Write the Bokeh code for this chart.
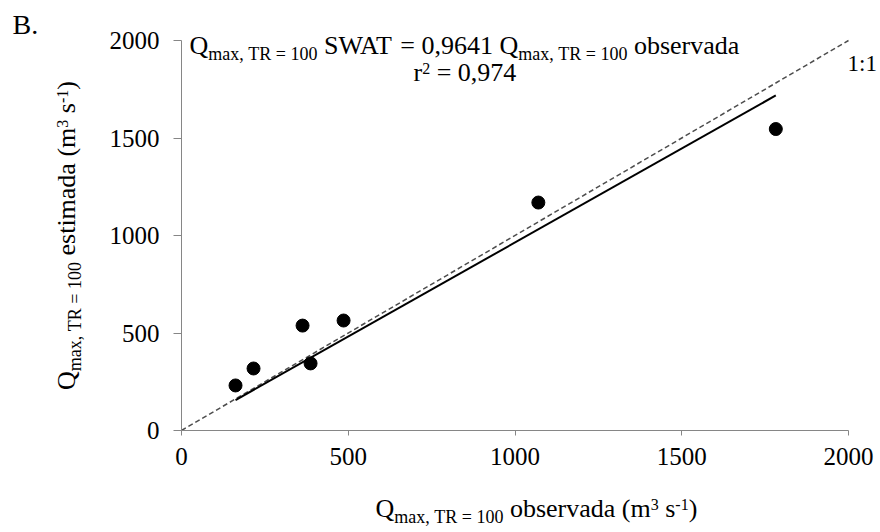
import math
from bokeh.plotting import figure
from bokeh.models import Range1d, Label, FixedTicker
from bokeh.embed import file_html
from bokeh.resources import INLINE

# ---- data ----
observada = [162, 216, 363, 387, 486, 1070, 1782]
estimada = [231, 318, 538, 344, 564, 1169, 1546]
slope = 0.9641
r2 = 0.974
ticks = [0, 500, 1000, 1500, 2000]
axis_min, axis_max = 0, 2000

FONT = "Liberation Serif"
W, H = 880, 532
# pixel box of the plotting area inside the canvas
L, R, T, B = 181, 32, 40, 102
FW, FH = W - L - R, H - T - B
span = axis_max - axis_min

# ranges extended so that the whole canvas is the frame (texts are not clipped)
x_start = axis_min - L / FW * span
x_end = axis_max + R / FW * span
y_start = axis_min - B / FH * span
y_end = axis_max + T / FH * span

p = figure(width=W, height=H, output_backend="svg", toolbar_location=None,
           x_range=Range1d(x_start, x_end), y_range=Range1d(y_start, y_end),
           min_border=0)
p.outline_line_color = None
p.grid.visible = False
p.background_fill_color = "white"
p.border_fill_color = "white"

for ax in (p.xaxis[0], p.yaxis[0]):
    ax.fixed_location = axis_min
    ax.bounds = (axis_min, axis_max)
    ax.ticker = FixedTicker(ticks=ticks)
    ax.minor_tick_line_color = None
    ax.axis_line_color = "#868686"
    ax.major_tick_line_color = "#868686"
    ax.major_tick_in = 0
    ax.major_label_text_font = FONT
    ax.major_label_text_font_size = "25px"
    ax.major_label_text_color = "black"
p.xaxis.major_tick_out = 5
p.xaxis.major_label_standoff = 12
p.yaxis.major_tick_out = 8
p.yaxis.major_label_standoff = 14

# 1:1 line
p.line([axis_min, axis_max], [axis_min, axis_max], line_color="#4d4d4d",
       line_width=1.5, line_dash="5 3")
# regression line through origin
xr = [min(observada), max(observada)]
p.line(xr, [slope * v for v in xr], line_color="black", line_width=2)
# points
p.scatter(observada, estimada, size=13, marker="circle", fill_color="black", line_color="black")

# ---- text layout helpers (pixel -> data) ----
def xd(px):
    return axis_min + (px - L) / FW * span

def yd(py):
    return axis_min + (T + FH - py) / FH * span

# advance widths (em) of the serif font, W includes the usual kerning of "WA"/"AT"
CW = {'Q': .722, 'm': .778, 'a': .444, 'x': .5, ',': .25, ' ': .25, 'T': .611, 'R': .667,
      '=': .564, 'S': .556, 'W': .80, 'A': .722, 'o': .5, 'b': .5, 's': .389, 'e': .444,
      'r': .333, 'v': .5, 'd': .5, 't': .278, 'i': .278, '(': .333, ')': .333, '-': .333,
      ':': .278, '.': .25, 'B': .667}

def tw(s, size):
    return sum(CW.get(c, .5) for c in s) * size

MAIN, SUB, SUP = 26, 18, 16
SUB_DY, SUP_DY = 5, -8
BASE_K = 0.38  # correction of the rendered baseline, in em

def style(kind, main):
    if kind == "m":
        return main, 0
    if kind == "b":
        return SUB, SUB_DY
    return SUP, SUP_DY

def pieces_width(pieces, main=MAIN):
    return sum(tw(txt, style(k, main)[0]) for txt, k in pieces)

def put(t, pos, b, size, vertical):
    if vertical:
        lab = Label(x=xd(b), y=yd(pos), angle=math.pi / 2)
    else:
        lab = Label(x=xd(pos), y=yd(b))
    lab.text = t
    lab.text_font = FONT
    lab.text_font_size = f"{size}px"
    lab.text_color = "black"
    lab.text_align = "left"
    lab.text_baseline = "alphabetic"
    p.add_layout(lab)

def place(pieces, start, base, vertical=False, main=MAIN):
    """Lay out text pieces word by word (m = normal, b = subscript, p = superscript)."""
    sgn = -1 if vertical else 1
    pos = start
    for txt, kind in pieces:
        size, d = style(kind, main)
        b = base + d - BASE_K * size
        i = 0
        while i < len(txt):
            if txt[i] == " ":
                pos += sgn * tw(" ", size)
                i += 1
                continue
            j = txt.find(" ", i)
            j = len(txt) if j < 0 else j
            word = txt[i:j]
            put(word, pos, b, size, vertical)
            pos += sgn * tw(word, size)
            i = j

sub = "max, TR = 100"
slope_txt = f"{slope}".replace(".", ",")
r2_txt = f"{r2}".replace(".", ",")

# equation
eq1 = [("Q", "m"), (sub, "b"), (f" SWAT = {slope_txt} Q", "m"), (sub, "b"), (" observada", "m")]
place(eq1, 189, 55)
eq2 = [("r", "m"), ("2", "p"), (f" = {r2_txt}", "m")]
place(eq2, 413, 82)

# 1:1 label
place([("1:1", "m")], 847, 72, main=23)
# panel letter
place([("B.", "m")], 12, 35, main=28)

# x axis label
xl = [("Q", "m"), (sub, "b"), (" observada (m", "m"), ("3", "p"), (" s", "m"), ("-1", "p"), (")", "m")]
place(xl, 375, 518)
# y axis label
yl = [("Q", "m"), (sub, "b"), (" estimada (m", "m"), ("3", "p"), (" s", "m"), ("-1", "p"), (")", "m")]
yw = pieces_width(yl)
place(yl, T + FH / 2 + yw / 2, 76, vertical=True)

open("out.html", "w").write(file_html(p, INLINE))
